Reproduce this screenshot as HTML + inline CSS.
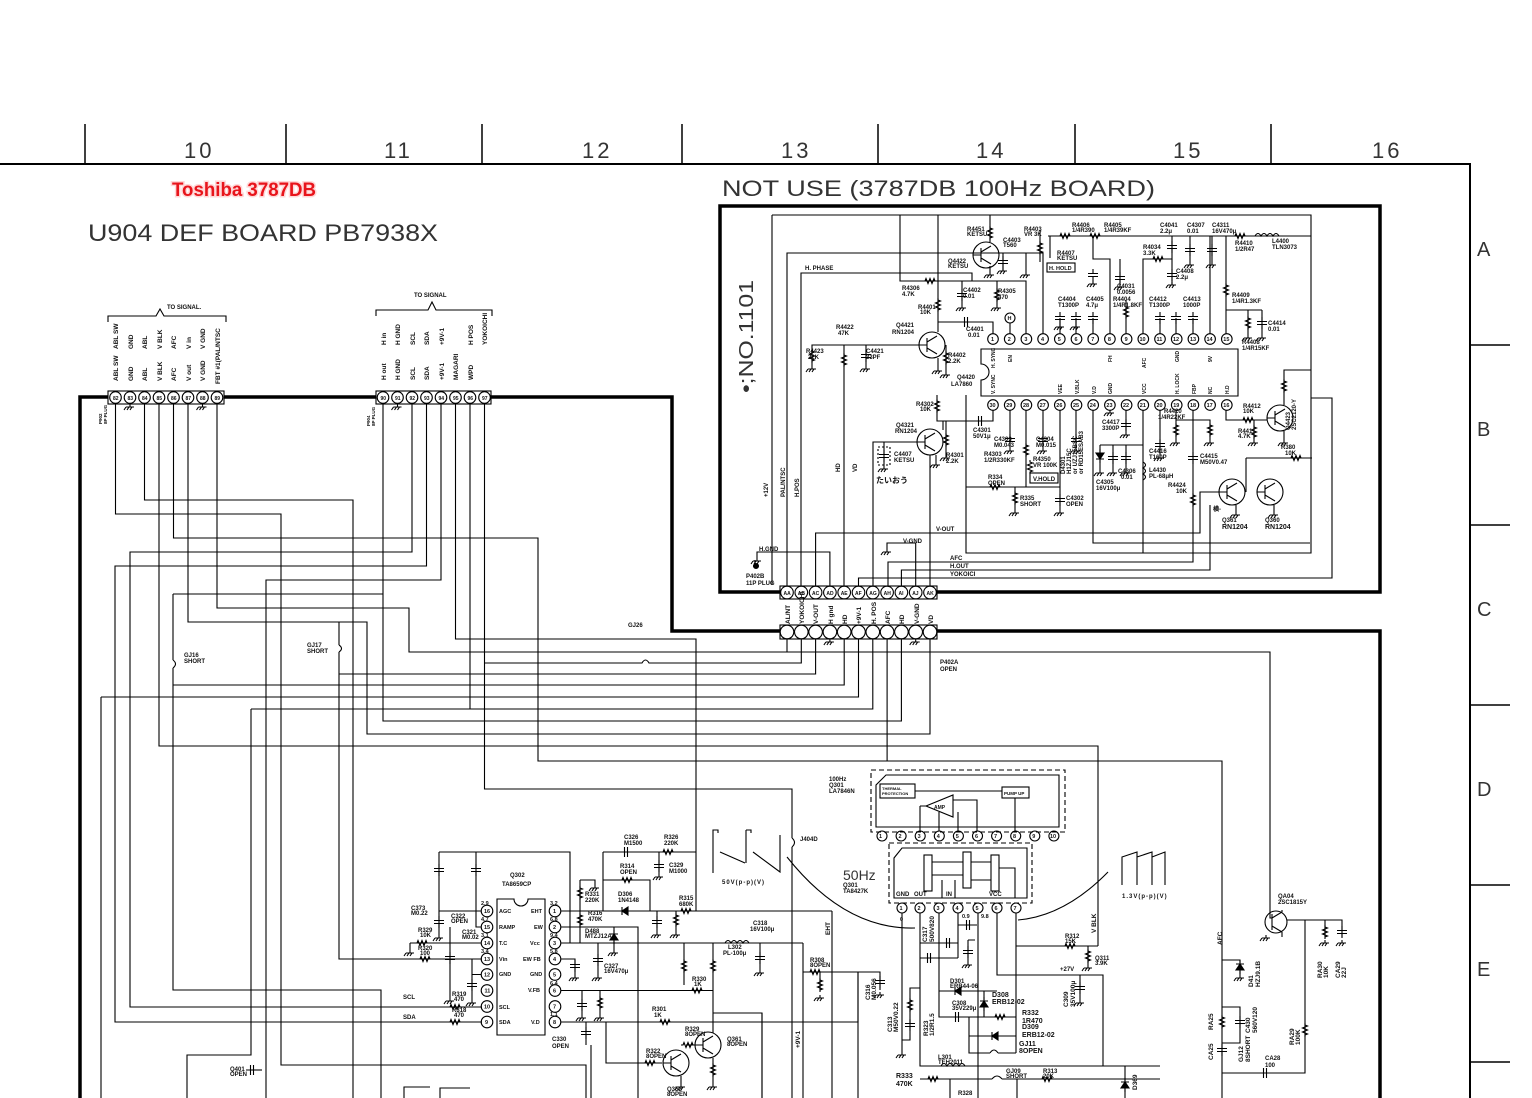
<!DOCTYPE html>
<html><head><meta charset="utf-8"><style>
html,body{margin:0;padding:0;background:#fff}
svg{display:block}
</style></head><body>
<svg width="1532" height="1098" viewBox="0 0 1532 1098" xmlns="http://www.w3.org/2000/svg">
<defs>
<g id="g"><path d="M0 0v3M-4 3h8M-4 3l-2 3M-1 3l-2 3M2 3l-2 3"/></g>
<g id="rv"><path d="M0 -7V-5L2.5 -4L-2.5 -2L2.5 0L-2.5 2L2.5 4L0 5V7"/></g>
<g id="rh"><path d="M-7 0H-5L-4 -2.5L-2 2.5L0 -2.5L2 2.5L4 -2.5L5 0H7"/></g>
<g id="cv"><path d="M0 -6V-1.5M-5 -1.5H5M-5 1.5H5M0 1.5V6"/></g>
<g id="ch"><path d="M-6 0H-1.5M-1.5 -5V5M1.5 -5V5M1.5 0H6"/></g>
<g id="dv"><path d="M0 -7V7M-4 3H4" /><path d="M-4 -3H4L0 3Z" fill="#000"/></g>
<g id="du"><path d="M0 -7V7M-4 -3H4" /><path d="M-4 3H4L0 -3Z" fill="#000"/></g>
<g id="dh"><path d="M-7 0H7M3 -4V4"/><path d="M-3 -4V4L3 0Z" fill="#000"/></g>
<g id="dl"><path d="M-7 0H7M-3 -4V4"/><path d="M3 -4V4L-3 0Z" fill="#000"/></g>
<g id="q"><circle r="13"/><path d="M-5 -7V7M-5 -3L5 -9M-5 3L5 9M-13 0H-5"/></g>
</defs>
<rect width="1532" height="1098" fill="#fff"/>

<g fill="none" stroke="#000" stroke-width="1.1">
<!-- frame -->
<path d="M0 164H1470V1098" stroke-width="2"/>
<path d="M85 124V164M286 124V164M482 124V164M682 124V164M878 124V164M1075 124V164M1271 124V164" stroke-width="1.5"/>
<path d="M1470 345H1510M1470 525H1510M1470 705H1510M1470 885H1510M1470 1062H1510" stroke-width="1.5"/>

<!-- thick board outlines -->
<rect x="720" y="206" width="660" height="386" stroke-width="3.5"/>
<path d="M80 1098V397H672V631H1380V1098" stroke-width="3.5"/>

<!-- braces -->
<path d="M108 322V316H156L160 309L164 316H226V322"/>
<path d="M376 316V310H428L432 302L436 310H492V316"/>

<!-- connectors -->
<rect x="108" y="391" width="116" height="13" fill="#fff"/>
<rect x="376" y="391" width="115" height="13" fill="#fff"/>
<rect x="780" y="586" width="157" height="13" fill="#fff"/>
<rect x="780" y="625" width="157" height="14" fill="#fff"/>
<g>
<circle cx="115.5" cy="397.5" r="5.8"/><circle cx="130" cy="397.5" r="5.8"/><circle cx="144.5" cy="397.5" r="5.8"/><circle cx="159" cy="397.5" r="5.8"/><circle cx="173.5" cy="397.5" r="5.8"/><circle cx="188" cy="397.5" r="5.8"/><circle cx="202.5" cy="397.5" r="5.8"/><circle cx="217" cy="397.5" r="5.8"/>
<circle cx="383" cy="397.5" r="5.8"/><circle cx="397.5" cy="397.5" r="5.8"/><circle cx="412" cy="397.5" r="5.8"/><circle cx="426.5" cy="397.5" r="5.8"/><circle cx="441" cy="397.5" r="5.8"/><circle cx="455.5" cy="397.5" r="5.8"/><circle cx="470" cy="397.5" r="5.8"/><circle cx="484.5" cy="397.5" r="5.8"/>
<circle cx="787" cy="592.5" r="6.3"/><circle cx="801.3" cy="592.5" r="6.3"/><circle cx="815.6" cy="592.5" r="6.3"/><circle cx="829.9" cy="592.5" r="6.3"/><circle cx="844.2" cy="592.5" r="6.3"/><circle cx="858.5" cy="592.5" r="6.3"/><circle cx="872.8" cy="592.5" r="6.3"/><circle cx="887.1" cy="592.5" r="6.3"/><circle cx="901.4" cy="592.5" r="6.3"/><circle cx="915.7" cy="592.5" r="6.3"/><circle cx="930" cy="592.5" r="6.3"/>
<circle cx="787" cy="632" r="6.8"/><circle cx="801.3" cy="632" r="6.8"/><circle cx="815.6" cy="632" r="6.8"/><circle cx="829.9" cy="632" r="6.8"/><circle cx="844.2" cy="632" r="6.8"/><circle cx="858.5" cy="632" r="6.8"/><circle cx="872.8" cy="632" r="6.8"/><circle cx="887.1" cy="632" r="6.8"/><circle cx="901.4" cy="632" r="6.8"/><circle cx="915.7" cy="632" r="6.8"/><circle cx="930" cy="632" r="6.8"/>
</g>
<use href="#g" x="130" y="404"/><use href="#g" x="202.5" y="404"/><use href="#g" x="397.5" y="404"/>
<use href="#g" x="829.9" y="639"/><use href="#g" x="915.7" y="639"/>

<!-- ===== TOP BOX wiring ===== -->
<path d="M772 215H1311V553H966V395"/>
<path d="M772 215V585"/>
<path d="M787 586V253H1043V334"/>
<path d="M801 586V273H972V281"/>
<path d="M900 215V281H1026V334"/>
<path d="M938 215V332M938 322H993V334"/>
<path d="M990 215V242M990 266V272"/><use href="#g" x="990" y="272"/>
<use href="#q" x="986" y="255"/>
<use href="#rv" x="990" y="233"/>
<path d="M1003 253V270M1010 334V323"/><circle cx="1010" cy="318" r="5"/>
<use href="#cv" x="1003" y="262"/><use href="#g" x="1003" y="268"/>
<path d="M1026 253V272M1040 230V262"/><use href="#g" x="1026" y="272"/><use href="#rv" x="1040" y="248"/>
<path d="M1048 236H1311M1050 236V258"/>
<use href="#rh" x="1065" y="236"/><use href="#rh" x="1095" y="236"/><use href="#rh" x="1240" y="236"/>
<path d="M1255 236q3 -5 6 0q3 -5 6 0q3 -5 6 0q3 -5 6 0"/>
<rect x="1047" y="263" width="28" height="9"/>
<path d="M1060 334V318M1076 334V318M1093 334V318"/>
<use href="#cv" x="1060" y="318"/><use href="#cv" x="1076" y="318"/><use href="#cv" x="1093" y="318"/>
<use href="#g" x="1060" y="324"/><use href="#g" x="1076" y="324"/>
<path d="M1110 334V259H1093V236"/><use href="#cv" x="1093" y="275"/><use href="#g" x="1093" y="281"/>
<path d="M1126 334V300"/><use href="#rv" x="1126" y="312"/>
<path d="M1143 334V259H1172V236M1120 259V285"/><use href="#cv" x="1120" y="278"/><use href="#g" x="1120" y="284"/>
<use href="#cv" x="1172" y="247"/><path d="M1172 259V285"/><use href="#cv" x="1172" y="275"/><use href="#g" x="1172" y="282"/>
<path d="M1190 236V262M1212 236V262"/><use href="#cv" x="1190" y="250"/><use href="#cv" x="1212" y="250"/><use href="#g" x="1190" y="262"/><use href="#g" x="1212" y="262"/>
<use href="#rh" x="1158" y="259"/>
<path d="M1160 334V318M1176 334V318M1193 334V318"/>
<use href="#cv" x="1160" y="318"/><use href="#cv" x="1176" y="318"/><use href="#cv" x="1193" y="318"/>
<path d="M1210 334V236M1226 334V236"/>
<use href="#rv" x="1226" y="290"/>
<path d="M1226 310H1262M1248 310V335M1262 310V335"/><use href="#rv" x="1248" y="323"/><use href="#cv" x="1262" y="323"/><use href="#g" x="1248" y="335"/><use href="#g" x="1262" y="335"/>
<use href="#rh" x="930" y="281"/>
<path d="M962 281V305M997 281V305"/><use href="#cv" x="962" y="295"/><use href="#rv" x="997" y="295"/><use href="#g" x="962" y="305"/><use href="#g" x="997" y="305"/>
<use href="#rv" x="938" y="305"/>
<use href="#ch" x="966" y="322"/>
<use href="#q" x="932" y="345"/>
<path d="M919 345H812V366M844 345V586M866 345V366M938 358V368M946 345V372"/>
<use href="#rv" x="812" y="356"/><use href="#rv" x="844" y="360"/><use href="#cv" x="866" y="356"/><use href="#rv" x="946" y="358"/>
<use href="#g" x="812" y="366"/><use href="#g" x="866" y="366"/><use href="#g" x="938" y="368"/><use href="#g" x="946" y="372"/>

<!-- IC Q4420 -->
<path d="M981 349H1238V396H981V380A8 8 0 0 0 981 364Z"/>
<g>
<circle cx="993" cy="339" r="5.3"/><circle cx="1009.7" cy="339" r="5.3"/><circle cx="1026.4" cy="339" r="5.3"/><circle cx="1043.1" cy="339" r="5.3"/><circle cx="1059.8" cy="339" r="5.3"/><circle cx="1076.5" cy="339" r="5.3"/><circle cx="1093.2" cy="339" r="5.3"/><circle cx="1109.9" cy="339" r="5.3"/><circle cx="1126.6" cy="339" r="5.3"/><circle cx="1143.3" cy="339" r="5.3"/><circle cx="1160" cy="339" r="5.3"/><circle cx="1176.7" cy="339" r="5.3"/><circle cx="1193.4" cy="339" r="5.3"/><circle cx="1210.1" cy="339" r="5.3"/><circle cx="1226.8" cy="339" r="5.3"/>
<circle cx="993" cy="405" r="5.3"/><circle cx="1009.7" cy="405" r="5.3"/><circle cx="1026.4" cy="405" r="5.3"/><circle cx="1043.1" cy="405" r="5.3"/><circle cx="1059.8" cy="405" r="5.3"/><circle cx="1076.5" cy="405" r="5.3"/><circle cx="1093.2" cy="405" r="5.3"/><circle cx="1109.9" cy="405" r="5.3"/><circle cx="1126.6" cy="405" r="5.3"/><circle cx="1143.3" cy="405" r="5.3"/><circle cx="1160" cy="405" r="5.3"/><circle cx="1176.7" cy="405" r="5.3"/><circle cx="1193.4" cy="405" r="5.3"/><circle cx="1210.1" cy="405" r="5.3"/><circle cx="1226.8" cy="405" r="5.3"/>
</g>
<path d="M993 410V421H937V395M943 421V430"/><use href="#rv" x="937" y="406"/><use href="#ch" x="980" y="421"/>
<use href="#q" x="930" y="442"/>
<path d="M917 442H873V586M946 421V455M936 455V462"/><use href="#rv" x="946" y="440"/><use href="#g" x="946" y="455"/><use href="#g" x="936" y="462"/>
<path d="M884 442V466"/><rect x="878" y="447" width="12" height="18" stroke-dasharray="2 2"/><use href="#cv" x="884" y="456"/><use href="#g" x="884" y="466"/>
<path d="M1010 410V448M1043 410V448M1076 410V448"/><use href="#cv" x="1010" y="440"/><use href="#cv" x="1043" y="440"/><use href="#cv" x="1076" y="440"/><use href="#g" x="1010" y="448"/><use href="#g" x="1043" y="448"/><use href="#g" x="1076" y="448"/>
<path d="M1026 410V487M1060 410V510"/><use href="#rv" x="1026" y="450"/><use href="#rv" x="1030" y="467"/>
<rect x="1030" y="473" width="28" height="10"/>
<path d="M966 487H1060"/><use href="#rh" x="995" y="487"/>
<path d="M1015 487V510"/><use href="#rv" x="1015" y="498"/><use href="#g" x="1015" y="510"/><use href="#cv" x="1060" y="500"/><use href="#g" x="1060" y="510"/>
<path d="M930 455V586"/>
<path d="M1093 410V543H1310"/>
<use href="#g" x="1110" y="410"/>
<path d="M1126 410V432M1143 410V553"/><use href="#cv" x="1126" y="425"/><use href="#g" x="1126" y="432"/>
<path d="M1100 445H1143M1100 445V470M1113 445V470M1126 445V470"/><use href="#dv" x="1100" y="456"/><use href="#cv" x="1113" y="458"/><use href="#cv" x="1126" y="458"/>
<use href="#g" x="1100" y="470"/><use href="#g" x="1113" y="470"/><use href="#g" x="1126" y="470"/>
<path d="M1143 462q5 3 0 6q5 3 0 6q5 3 0 6"/>
<path d="M1160 410V455"/><use href="#cv" x="1160" y="445"/><use href="#g" x="1160" y="455"/>
<path d="M1176 410V440M1176 420H1210V440"/><use href="#rv" x="1176" y="430"/><use href="#rv" x="1210" y="430"/><use href="#g" x="1176" y="440"/><use href="#g" x="1210" y="440"/>
<path d="M1193 410V562H888V586"/><use href="#cv" x="1193" y="458"/><use href="#rv" x="1193" y="500"/>
<path d="M1226 410V420H1267"/><use href="#rh" x="1248" y="420"/><path d="M1254 420V440"/><use href="#rv" x="1254" y="432"/><use href="#g" x="1254" y="440"/>
<use href="#q" x="1280" y="418"/>
<path d="M1284 405V370H1311M1284 431V440"/><use href="#rv" x="1284" y="386"/><use href="#g" x="1284" y="440"/>
<path d="M1246 458H1312"/><use href="#rh" x="1296" y="458"/><path d="M1246 458V492"/>
<use href="#q" x="1232" y="492"/><use href="#q" x="1270" y="492"/>
<path d="M1236 505V512M1274 505V512"/><use href="#g" x="1236" y="512"/><use href="#g" x="1274" y="512"/>
<path d="M815.6 586V533H1200V492H1219"/>
<path d="M901.4 586V570H1210V505"/>
<path d="M858.5 586V578H1332V398H1311"/>
<path d="M829.9 586V552H757V558"/><use href="#g" x="757" y="558"/>
<path d="M915.7 586V543H887V549"/><use href="#g" x="887" y="549"/>
<path d="M755 560V565" /><circle cx="756" cy="566" r="2.5" fill="#000"/>

<!-- ===== LOWER LEFT wiring ===== -->
<path d="M115.5 404V514H281V1065H586V1098"/>
<path d="M144.5 404V500H353V1098"/>
<path d="M159 404V746H1098V946"/>
<path d="M173.5 404V538H538V761H1222V1098"/>
<path d="M188 404V622H367V734H930V639"/>
<path d="M217 404V608H409V652H1270V910"/>
<path d="M787 639V652"/>
<path d="M383 404V721H901.4V639"/>
<path d="M412 404V552H130V1007H482"/>
<path d="M426.5 404V566H115V1022H482"/>
<path d="M441 404V580H266V1098"/>
<path d="M455.5 404V639H696V911"/>
<path d="M470 404V709H872.8V639M251 709H470M251 709V1055H187V1098"/>
<path d="M484.5 404V789H792V838M792 847V1098"/>
<path d="M792 838q5 4.5 0 9"/>
<path d="M484.5 663H642q3.5 -6 7 0H801.3V639"/>
<path d="M173 594H383M173 594V660M173 668V990H381V1098"/>
<path d="M173 660q5 4 0 8"/>
<path d="M339 622V645M339 652V959H482M339 645q5 3.5 0 7"/>
<path d="M339 674H815.6V639"/>
<path d="M173 685H844.2V639"/>
<path d="M101 697H858.5V639M101 697V1098"/>
<path d="M887.1 639V761"/>

<!-- Q302 -->
<path d="M497 899H514A7 7 0 0 0 528 899H545V1035H497Z"/>
<g>
<circle cx="487" cy="911" r="5.8"/><circle cx="487" cy="927" r="5.8"/><circle cx="487" cy="943" r="5.8"/><circle cx="487" cy="959" r="5.8"/><circle cx="487" cy="974.5" r="5.8"/><circle cx="487" cy="990.5" r="5.8"/><circle cx="487" cy="1006.5" r="5.8"/><circle cx="487" cy="1022" r="5.8"/>
<circle cx="555" cy="911" r="5.8"/><circle cx="555" cy="927" r="5.8"/><circle cx="555" cy="943" r="5.8"/><circle cx="555" cy="959" r="5.8"/><circle cx="555" cy="974.5" r="5.8"/><circle cx="555" cy="990.5" r="5.8"/><circle cx="555" cy="1006.5" r="5.8"/><circle cx="555" cy="1022" r="5.8"/>
</g>
<path d="M439 852H570V943"/>
<path d="M439 852V911H481M439 911V935"/><use href="#cv" x="439" y="870"/><use href="#cv" x="439" y="922"/><use href="#g" x="439" y="935"/>
<path d="M476 852V927H481"/><use href="#cv" x="476" y="870"/>
<path d="M410 943H481M410 943V950"/><use href="#rh" x="422" y="943"/><use href="#g" x="410" y="950"/>
<use href="#rh" x="425" y="959"/>
<path d="M450 927V998M472 959V1000M472 974.5H481"/><use href="#cv" x="450" y="958"/><use href="#cv" x="472" y="985"/><use href="#g" x="450" y="998"/><use href="#g" x="472" y="1000"/>
<use href="#rh" x="455" y="1007"/><use href="#rh" x="455" y="1022"/>
<path d="M561 911H832"/><use href="#rh" x="686" y="911"/><use href="#dl" x="625" y="911"/>
<path d="M603 852V911M603 852H696"/><use href="#ch" x="626" y="852"/><use href="#rh" x="668" y="852"/><path d="M659 852V874"/><use href="#cv" x="659" y="866"/><use href="#g" x="659" y="874"/>
<path d="M603 880H650V911"/><use href="#rh" x="627" y="880"/>
<path d="M580 880V943M580 880H595V885"/><use href="#rv" x="580" y="893"/><use href="#rv" x="580" y="920"/><use href="#g" x="595" y="885"/>
<path d="M657 911V932M676 911V932"/><use href="#cv" x="657" y="922"/><use href="#rv" x="676" y="920"/><use href="#g" x="657" y="932"/><use href="#g" x="676" y="932"/>
<path d="M561 927H638V1098"/><use href="#du" x="614" y="937"/><path d="M614 927V950"/><use href="#g" x="614" y="950"/>
<path d="M561 943H803"/>
<path d="M725 943q3 -5 6 0q3 -5 6 0q3 -5 6 0q3 -5 6 0"/>
<path d="M760 943V970"/><use href="#cv" x="760" y="958"/><use href="#g" x="760" y="970"/>
<path d="M561 959H575V975M598 943V975"/><use href="#cv" x="575" y="966"/><use href="#cv" x="598" y="960"/><use href="#g" x="575" y="975"/><use href="#g" x="598" y="975"/>
<path d="M561 990.5H713"/>
<path d="M582 990.5V1015M600 990.5V1015"/><use href="#cv" x="582" y="1005"/><use href="#rv" x="600" y="1003"/><use href="#g" x="582" y="1015"/><use href="#g" x="600" y="1015"/>
<path d="M713 943V1033M713 1013H762V1098M684 943V985"/><use href="#rv" x="684" y="966"/><use href="#rv" x="713" y="966"/><use href="#rh" x="697" y="990.5"/>
<path d="M561 1022H858V972M803 972H880V990"/><use href="#rh" x="665" y="1022"/>
<path d="M586 1022V1045"/><use href="#cv" x="586" y="1033"/>
<path d="M606 1022V1063H662"/><use href="#rh" x="650" y="1063"/>
<use href="#q" x="676" y="1063"/><use href="#q" x="708" y="1045"/>
<path d="M681 1076V1084M695 1045H686M713 1058V1084"/><use href="#rh" x="688" y="1045"/><use href="#rv" x="713" y="1070"/><use href="#g" x="681" y="1084"/><use href="#g" x="713" y="1084"/>
<path d="M803 943V1098M832 911V1098"/>
<path d="M820 972V990"/><use href="#rh" x="815" y="972"/><use href="#rv" x="820" y="985"/><use href="#g" x="820" y="995"/>
<use href="#cv" x="880" y="982"/><use href="#g" x="880" y="992"/>
<path d="M858 972V1098"/>
<path d="M762 1013V1098M591 1045V1098"/>
<path d="M404 1098V1087H430M440 1098V1088H470"/>
<path d="M187 1055H251"/><path d="M251 1070H262"/><use href="#ch" x="252" y="1070"/>

<!-- waveforms & callouts -->
<path d="M713 873V830h5v3M720 852L745 863M746 830V863M746 830h5v3M753 852L780 872V835"/>
<path d="M1122 885V857L1137 852V885M1137 857L1152 852V885M1152 857L1165 852V885"/>
<path d="M787 857Q845 930 915 928"/>
<path d="M1108 872Q1065 916 1018 920"/>

<!-- 100Hz Q301 LA7846N -->
<rect x="871" y="770" width="194" height="62" stroke-dasharray="5 3"/>
<path d="M886 775H1059V827H876V785Z"/>
<rect x="880" y="784" width="35" height="14"/>
<path d="M926 806L953 795V817Z"/>
<rect x="1002" y="787" width="27" height="11"/>
<path d="M915 791H1002M920 806V831M939 812V831M958 812V831M953 800H977V831M1015 798V831M920 806H926"/>
<g>
<circle cx="882" cy="836" r="5"/><circle cx="901.1" cy="836" r="5"/><circle cx="920.2" cy="836" r="5"/><circle cx="939.3" cy="836" r="5"/><circle cx="958.4" cy="836" r="5"/><circle cx="977.5" cy="836" r="5"/><circle cx="996.6" cy="836" r="5"/><circle cx="1015.7" cy="836" r="5"/><circle cx="1034.8" cy="836" r="5"/><circle cx="1053.9" cy="836" r="5"/>
</g>
<!-- 50Hz TA8427K -->
<rect x="889" y="843" width="143" height="60" stroke-dasharray="5 3"/>
<path d="M902 848H1027V898H894V858Z"/>
<rect x="924" y="855" width="8" height="36"/><rect x="963" y="852" width="8" height="36"/><rect x="991" y="855" width="8" height="36"/>
<path d="M932 862H963M971 862H991M932 875H963M971 880H991M999 868H1015V898M942 880V898M955 880V898"/>
<g>
<circle cx="902" cy="908" r="5"/><circle cx="920" cy="908" r="5"/><circle cx="939" cy="908" r="5"/><circle cx="958" cy="908" r="5"/><circle cx="978" cy="908" r="5"/><circle cx="997" cy="908" r="5"/><circle cx="1016" cy="908" r="5"/>
</g>
<!-- TA8427K pin wiring -->
<path d="M902 913V1052"/><use href="#g" x="902" y="1052"/>
<path d="M920 988H910V1040H902"/><use href="#rv" x="910" y="1005"/><use href="#cv" x="910" y="1025"/>
<path d="M920 913V1066H1160"/>
<path d="M941 1066q3 -5 6 0q3 -5 6 0q3 -5 6 0q3 -5 6 0"/>
<path d="M939 913V1017H1016"/>
<path d="M939 991H997"/><use href="#dl" x="958" y="991"/>
<path d="M984 991V1017"/><use href="#du" x="984" y="1004"/>
<use href="#ch" x="957" y="1017"/><use href="#rh" x="1000" y="1017"/>
<path d="M920 943H958M920 958H958M958 913V958M958 925H977"/>
<use href="#ch" x="948" y="943"/><use href="#ch" x="929" y="958"/><use href="#ch" x="968" y="925"/>
<path d="M968 940V962M968 940H975"/><use href="#cv" x="968" y="952"/><use href="#g" x="968" y="962"/>
<path d="M978 913V1098"/>
<path d="M997 913V975H1103V1066"/>
<path d="M1016 913V1053M1016 946H1098"/>
<path d="M969 1017V1053H990M998 1053H1016M969 1036H1016"/>
<path d="M990 1053q4 -6 8 0"/>
<use href="#dl" x="995" y="1036"/>
<path d="M920 1079H992M1002 1079H1160"/><path d="M992 1079q5 -6 10 0"/>
<use href="#rh" x="933" y="1079"/><use href="#rh" x="1047" y="1079"/>
<path d="M950 1079V1098M1017 1079V1098"/>
<path d="M1080 975V1000"/><use href="#cv" x="1080" y="988"/><use href="#g" x="1080" y="1000"/>
<use href="#rh" x="1070" y="946"/>
<path d="M1088 946V965"/><use href="#rv" x="1088" y="956"/><use href="#g" x="1088" y="965"/>
<path d="M1125 1066V1098"/><use href="#du" x="1125" y="1085"/>

<!-- right: AFC and QA04 -->
<path d="M1222 960H1240V975M1222 1007H1240V1043H1222M1222 1073H1305V920"/>
<use href="#du" x="1240" y="967"/><use href="#g" x="1240" y="975"/>
<use href="#cv" x="1240" y="1022"/><use href="#rv" x="1222" y="1022"/><use href="#cv" x="1222" y="1050"/>
<use href="#ch" x="1265" y="1073"/><use href="#rv" x="1305" y="1030"/>
<circle cx="1276" cy="922" r="11"/>
<path d="M1272 914V930M1272 918L1282 912M1272 926L1282 932M1270 910V918H1272M1282 912V910M1282 932V937"/>
<use href="#g" x="1266" y="935"/>
<path d="M1287 920H1342V937M1325 920V937"/><use href="#rv" x="1325" y="932"/><use href="#cv" x="1342" y="932"/><use href="#g" x="1325" y="940"/><use href="#g" x="1342" y="940"/>
</g>

<!-- ===== TEXT ===== -->
<g font-family="Liberation Sans, sans-serif" fill="#111">
<g font-size="22" letter-spacing="3" fill="#333">
<text x="184" y="158">10</text><text x="384" y="158">11</text><text x="582" y="158">12</text><text x="781" y="158">13</text><text x="976" y="158">14</text><text x="1173" y="158">15</text><text x="1372" y="158">16</text>
</g>
<g font-size="20" fill="#333">
<text x="1477" y="256">A</text><text x="1477" y="436">B</text><text x="1477" y="616">C</text><text x="1477" y="796">D</text><text x="1477" y="976">E</text>
</g>
<text x="172" y="196" font-size="19" font-weight="bold" fill="#e8141b" stroke="#ffd8d8" stroke-width="3" paint-order="stroke" textLength="144" lengthAdjust="spacingAndGlyphs">Toshiba 3787DB</text>
<text x="88" y="241" font-size="24" fill="#333" textLength="350" lengthAdjust="spacingAndGlyphs">U904  DEF  BOARD  PB7938X</text>
<text x="722" y="196" font-size="22" fill="#333" textLength="433" lengthAdjust="spacingAndGlyphs">NOT  USE  (3787DB  100Hz  BOARD)</text>
<text x="753" y="393" font-size="20" fill="#333" transform="rotate(-90 753 393)" textLength="113" lengthAdjust="spacingAndGlyphs">•;NO.1101</text>
<text x="843" y="880" font-size="14" fill="#333">50Hz</text>

<g font-size="6" font-weight="bold">
<text x="167" y="309">TO SIGNAL.</text>
<text x="414" y="297">TO SIGNAL</text>
<g font-size="5">
<text x="113" y="400">82</text><text x="127.5" y="400">83</text><text x="142" y="400">84</text><text x="156.5" y="400">85</text><text x="171" y="400">86</text><text x="185.5" y="400">87</text><text x="200" y="400">88</text><text x="214.5" y="400">89</text>
<text x="380.5" y="400">90</text><text x="395" y="400">91</text><text x="409.5" y="400">92</text><text x="424" y="400">93</text><text x="438.5" y="400">94</text><text x="453" y="400">95</text><text x="467.5" y="400">96</text><text x="482" y="400">97</text>
<text x="783.5" y="595">AA</text><text x="797.8" y="595">AB</text><text x="812" y="595">AC</text><text x="826.4" y="595">AD</text><text x="840.7" y="595">AE</text><text x="855" y="595">AF</text><text x="869.3" y="595">AG</text><text x="883.6" y="595">AH</text><text x="898.5" y="595">AI</text><text x="912.2" y="595">AJ</text><text x="926.5" y="595">AK</text>
</g>
<g font-size="6.5">
<text transform="rotate(-90 118 349)" x="118" y="349">ABL SW</text>
<text transform="rotate(-90 133 349)" x="133" y="349">GND</text>
<text transform="rotate(-90 147 349)" x="147" y="349">ABL</text>
<text transform="rotate(-90 162 349)" x="162" y="349">V BLK</text>
<text transform="rotate(-90 176 349)" x="176" y="349">AFC</text>
<text transform="rotate(-90 191 349)" x="191" y="349">V in</text>
<text transform="rotate(-90 205 349)" x="205" y="349">V GND</text>
<text transform="rotate(-90 118 381)" x="118" y="381">ABL SW</text>
<text transform="rotate(-90 133 381)" x="133" y="381">GND</text>
<text transform="rotate(-90 147 381)" x="147" y="381">ABL</text>
<text transform="rotate(-90 162 381)" x="162" y="381">V BLK</text>
<text transform="rotate(-90 176 381)" x="176" y="381">AFC</text>
<text transform="rotate(-90 191 381)" x="191" y="381">V out</text>
<text transform="rotate(-90 205 381)" x="205" y="381">V GND</text>
<text transform="rotate(-90 220 384)" x="220" y="384">FBT #1(PAL/NTSC</text>
<text transform="rotate(-90 386 345)" x="386" y="345">H in</text>
<text transform="rotate(-90 400 345)" x="400" y="345">H GND</text>
<text transform="rotate(-90 415 345)" x="415" y="345">SCL</text>
<text transform="rotate(-90 429 345)" x="429" y="345">SDA</text>
<text transform="rotate(-90 444 345)" x="444" y="345">+9V-1</text>
<text transform="rotate(-90 473 345)" x="473" y="345">H POS</text>
<text transform="rotate(-90 487 345)" x="487" y="345">YOKOICHI</text>
<text transform="rotate(-90 386 380)" x="386" y="380">H out</text>
<text transform="rotate(-90 400 380)" x="400" y="380">H GND</text>
<text transform="rotate(-90 415 380)" x="415" y="380">SCL</text>
<text transform="rotate(-90 429 380)" x="429" y="380">SDA</text>
<text transform="rotate(-90 444 380)" x="444" y="380">+9V-1</text>
<text transform="rotate(-90 458 380)" x="458" y="380">MAGARI</text>
<text transform="rotate(-90 473 380)" x="473" y="380">WPD</text>
<text transform="rotate(-90 790 624)" x="790" y="624">AL/NT</text>
<text transform="rotate(-90 804 624)" x="804" y="624">YOKOICHI</text>
<text transform="rotate(-90 818 624)" x="818" y="624">V-OUT</text>
<text transform="rotate(-90 833 624)" x="833" y="624">H gnd</text>
<text transform="rotate(-90 847 624)" x="847" y="624">HD</text>
<text transform="rotate(-90 861 624)" x="861" y="624">+9V-1</text>
<text transform="rotate(-90 876 624)" x="876" y="624">H. POS</text>
<text transform="rotate(-90 890 624)" x="890" y="624">AFC</text>
<text transform="rotate(-90 904 624)" x="904" y="624">HD</text>
<text transform="rotate(-90 919 624)" x="919" y="624">V-GND</text>
<text transform="rotate(-90 933 624)" x="933" y="624">VD</text>
</g>
<g font-size="4.5">
<text transform="rotate(-90 102 424)" x="102" y="424">P902</text>
<text transform="rotate(-90 107 424)" x="107" y="424">8P PLUG</text>
<text transform="rotate(-90 370 426)" x="370" y="426">P904</text>
<text transform="rotate(-90 375 426)" x="375" y="426">8P PLUG</text>
</g>

<!-- top box labels -->
<text x="967" y="231">R4451</text><text x="967" y="236">KETSU</text>
<text x="1003" y="242">C4403</text><text x="1003" y="247">T560</text>
<text x="1024" y="231">R4403</text><text x="1024" y="236">VR 3K</text>
<text x="1072" y="227">R4406</text><text x="1072" y="232">1/4R390</text>
<text x="1104" y="227">R4405</text><text x="1104" y="232">1/4R39KF</text>
<text x="1160" y="227">C4041</text><text x="1160" y="233">2.2μ</text>
<text x="1187" y="227">C4307</text><text x="1187" y="233">0.01</text>
<text x="1212" y="227">C4311</text><text x="1212" y="233">16V470μ</text>
<text x="1235" y="245">R4410</text><text x="1235" y="251">1/2R47</text>
<text x="1272" y="243">L4400</text><text x="1272" y="249">TLN3073</text>
<text x="948" y="263">Q4422</text><text x="948" y="268">KETSU</text>
<text x="1057" y="255">R4407</text><text x="1057" y="260">KETSU</text>
<text x="1049" y="270" font-size="5.5">H. HOLD</text>
<text x="1143" y="249">R4034</text><text x="1143" y="255">3.3K</text>
<text x="1176" y="273">C4408</text><text x="1176" y="279">2.2μ</text>
<text x="1117" y="288">C4031</text><text x="1117" y="294">0.0056</text>
<text x="805" y="270">H. PHASE</text>
<text x="902" y="290">R4306</text><text x="902" y="296">4.7K</text>
<text x="963" y="292">C4402</text><text x="963" y="298">0.01</text>
<text x="998" y="293">R4305</text><text x="998" y="299">470</text>
<text x="918" y="309">R4401</text><text x="920" y="314">10K</text>
<text x="1058" y="301">C4404</text><text x="1058" y="307">T1300P</text>
<text x="1086" y="301">C4405</text><text x="1086" y="307">4.7μ</text>
<text x="1113" y="301">R4404</text><text x="1113" y="307">1/4R1.8KF</text>
<text x="1149" y="301">C4412</text><text x="1149" y="307">T1300P</text>
<text x="1183" y="301">C4413</text><text x="1183" y="307">1000P</text>
<text x="1232" y="297">R4409</text><text x="1232" y="303">1/4R1.3KF</text>
<text x="1268" y="325">C4414</text><text x="1268" y="331">0.01</text>
<text x="1242" y="344">R4408</text><text x="1242" y="350">1/4R15KF</text>
<text x="836" y="329">R4422</text><text x="838" y="335">47K</text>
<text x="896" y="327">Q4421</text><text x="892" y="334">RN1204</text>
<text x="966" y="331">C4401</text><text x="968" y="337">0.01</text>
<text x="806" y="353">R4423</text><text x="808" y="359">22K</text>
<text x="866" y="353">C4421</text><text x="866" y="359">33PF</text>
<text x="948" y="357">R4402</text><text x="948" y="363">2.2K</text>
<text x="957" y="379">Q4420</text><text x="951" y="386">LA7860</text>
<text x="916" y="406">R4302</text><text x="920" y="411">10K</text>
<text x="896" y="427">Q4321</text><text x="895" y="433">RN1204</text>
<text x="973" y="432">C4301</text><text x="973" y="438">50V1μ</text>
<text x="994" y="441">C4303</text><text x="994" y="447">M0.043</text>
<text x="1036" y="441">C4304</text><text x="1036" y="447">M0.015</text>
<text x="984" y="456">R4303</text><text x="984" y="462">1/2R330KF</text>
<text x="1033" y="461">R4350</text><text x="1033" y="467">VR 100K</text>
<text x="1033" y="481">V.HOLD</text>
<text x="988" y="479">R334</text><text x="988" y="485">OPEN</text>
<text x="1020" y="500">R335</text><text x="1020" y="506">SHORT</text>
<text x="1066" y="500">C4302</text><text x="1066" y="506">OPEN</text>
<text x="894" y="456">C4407</text><text x="894" y="462">KETSU</text>
<text x="946" y="457">R4301</text><text x="946" y="463">2.2K</text>
<text x="1102" y="424">C4417</text><text x="1102" y="430">3300P</text>
<text x="1164" y="413">R4420</text><text x="1158" y="419">1/4R22KF</text>
<text x="1149" y="453">C4416</text><text x="1149" y="459">T160P</text>
<text x="1149" y="472">L4430</text><text x="1149" y="478">PL-68μH</text>
<text x="1118" y="473">C4306</text><text x="1121" y="479">0.01</text>
<text x="1096" y="484">C4305</text><text x="1096" y="490">16V100μ</text>
<text x="1168" y="487">R4424</text><text x="1176" y="493">10K</text>
<text x="1200" y="458">C4415</text><text x="1200" y="464">M50V0.47</text>
<text x="1243" y="408">R4412</text><text x="1243" y="413">10K</text>
<text x="1238" y="433">R4411</text><text x="1238" y="438">4.7K</text>
<text x="1281" y="449">R380</text><text x="1285" y="455">10K</text>
<text x="1222" y="522">Q361</text><text x="1222" y="529" font-size="7">RN1204</text>
<text x="1265" y="522">Q360</text><text x="1265" y="529" font-size="7">RN1204</text>
<text x="1213" y="511">横-</text>
<text x="936" y="531">V-OUT</text>
<text x="903" y="543">V-GND</text>
<text x="759" y="551">H.GND</text>
<text x="950" y="560">AFC</text><text x="950" y="568">H.OUT</text><text x="950" y="576">YOKOICI</text>
<text x="746" y="578">P402B</text><text x="746" y="585">11P PLUG</text>
<text x="876" y="483" font-size="8" font-family="Liberation Sans, Noto Sans CJK JP, sans-serif">たいおう</text>
<text transform="rotate(-90 768 497)" x="768" y="497">+12V</text>
<text transform="rotate(-90 785 497)" x="785" y="497">PAL/NTSC</text>
<text transform="rotate(-90 799 497)" x="799" y="497">H.POS</text>
<text transform="rotate(-90 840 472)" x="840" y="472">HD</text>
<text transform="rotate(-90 857 472)" x="857" y="472">VD</text>
<text transform="rotate(-90 1065 474)" x="1065" y="474">D4301</text>
<text transform="rotate(-90 1071 474)" x="1071" y="474">H1ZJ15C</text>
<text transform="rotate(-90 1077 474)" x="1077" y="474">or UZJ15BSC</text>
<text transform="rotate(-90 1083 474)" x="1083" y="474">or RD15ESAB3</text>
<text transform="rotate(-90 1290 430)" x="1290" y="430">Q4423</text>
<text transform="rotate(-90 1296 430)" x="1296" y="430">2SC2120-Y</text>
<g font-size="5">
<text transform="rotate(-90 995 368)" x="995" y="368">H. SYNC</text>
<text transform="rotate(-90 1012 362)" x="1012" y="362">EN</text>
<text transform="rotate(-90 1112 362)" x="1112" y="362">FH</text>
<text transform="rotate(-90 1146 368)" x="1146" y="368">AFC</text>
<text transform="rotate(-90 1179 362)" x="1179" y="362">GND</text>
<text transform="rotate(-90 1212 362)" x="1212" y="362">9V</text>
<text transform="rotate(-90 995 394)" x="995" y="394">V. SYNC</text>
<text transform="rotate(-90 1062 394)" x="1062" y="394">VEE</text>
<text transform="rotate(-90 1079 394)" x="1079" y="394">V.BLK</text>
<text transform="rotate(-90 1096 394)" x="1096" y="394">V.D</text>
<text transform="rotate(-90 1112 394)" x="1112" y="394">GND</text>
<text transform="rotate(-90 1146 394)" x="1146" y="394">VCC</text>
<text transform="rotate(-90 1179 394)" x="1179" y="394">H. LOCK</text>
<text transform="rotate(-90 1196 394)" x="1196" y="394">FBP</text>
<text transform="rotate(-90 1212 394)" x="1212" y="394">NC</text>
<text transform="rotate(-90 1229 394)" x="1229" y="394">H.D</text>
</g>
<g font-size="5.5">
<text x="991" y="341">1</text><text x="1007.7" y="341">2</text><text x="1024.4" y="341">3</text><text x="1041" y="341">4</text><text x="1057.8" y="341">5</text><text x="1074.5" y="341">6</text><text x="1091.2" y="341">7</text><text x="1107.9" y="341">8</text><text x="1124.6" y="341">9</text><text x="1139.5" y="341">10</text><text x="1156.5" y="341">11</text><text x="1173" y="341">12</text><text x="1190" y="341">13</text><text x="1206.5" y="341">14</text><text x="1223.3" y="341">15</text>
<text x="989.5" y="407">30</text><text x="1006.2" y="407">29</text><text x="1023" y="407">28</text><text x="1039.6" y="407">27</text><text x="1056.3" y="407">26</text><text x="1073" y="407">25</text><text x="1089.7" y="407">24</text><text x="1106.4" y="407">23</text><text x="1123" y="407">22</text><text x="1139.8" y="407">21</text><text x="1156.5" y="407">20</text><text x="1173.2" y="407">19</text><text x="1190" y="407">18</text><text x="1206.6" y="407">17</text><text x="1223.3" y="407">16</text>
<text x="1007.5" y="320">H</text>
</g>

<!-- lower labels -->
<text x="184" y="657">GJ16</text><text x="184" y="663">SHORT</text>
<text x="307" y="647">GJ17</text><text x="307" y="653">SHORT</text>
<text x="628" y="627">GJ26</text>
<text x="940" y="664">P402A</text><text x="940" y="671">OPEN</text>
<text x="829" y="781">100Hz</text><text x="829" y="787">Q301</text><text x="829" y="793">LA7846N</text>
<text x="882" y="790" font-size="4">THERMAL</text><text x="882" y="795" font-size="4">PROTECTION</text>
<text x="934" y="809" font-size="5">AMP</text>
<text x="1004" y="795" font-size="4.5">PUMP UP</text>
<text x="843" y="887">Q301</text><text x="843" y="893">TA8427K</text>
<text x="896" y="896">GND</text><text x="914" y="896">OUT</text><text x="946" y="896">IN</text><text x="989" y="896">VCC</text>
<text x="722" y="884" letter-spacing="1">50V(p-p)(V)</text>
<text x="1122" y="898" letter-spacing="1">1.3V(p-p)(V)</text>
<text x="800" y="841">J404D</text>
<g font-size="5.5">
<text x="879" y="838">1</text><text x="898.5" y="838">2</text><text x="917.6" y="838">3</text><text x="936.7" y="838">4</text><text x="955.8" y="838">5</text><text x="975" y="838">6</text><text x="994" y="838">7</text><text x="1013" y="838">8</text><text x="1032.2" y="838">9</text><text x="1050" y="838">10</text>
<text x="899.5" y="910">1</text><text x="917.5" y="910">2</text><text x="936.5" y="910">3</text><text x="955.5" y="910">4</text><text x="975.5" y="910">5</text><text x="994.5" y="910">6</text><text x="1013.5" y="910">7</text>
<text x="900" y="921">0</text><text x="962" y="918">0.9</text><text x="981" y="918">9.8</text>
<text x="484" y="913">16</text><text x="484" y="929">15</text><text x="484" y="945">14</text><text x="484" y="961">13</text><text x="484" y="976.5">12</text><text x="484.5" y="992.5">11</text><text x="484" y="1008.5">10</text><text x="485" y="1024">9</text>
<text x="553" y="913">1</text><text x="553" y="929">2</text><text x="553" y="945">3</text><text x="553" y="961">4</text><text x="553" y="976.5">5</text><text x="553" y="992.5">6</text><text x="553" y="1008.5">7</text><text x="553" y="1024">8</text>
</g>
<text x="510" y="877">Q302</text><text x="502" y="886">TA8659CP</text>
<g font-size="5.5">
<text x="499" y="913">AGC</text><text x="499" y="929">RAMP</text><text x="499" y="945">T.C</text><text x="499" y="961">Vin</text><text x="499" y="976">GND</text><text x="499" y="1009">SCL</text><text x="499" y="1024">SDA</text>
<text x="531" y="913">EHT</text><text x="534" y="929">EW</text><text x="530" y="945">Vcc</text><text x="523" y="961">EW FB</text><text x="530" y="976">GND</text><text x="528" y="992">V.FB</text><text x="531" y="1024">V.D</text>
<text x="481" y="905">2.9</text><text x="481" y="921">4.7</text><text x="481" y="937">3.1</text><text x="481" y="953">3.4</text>
<text x="550" y="905">3.2</text><text x="550" y="921">6.8</text><text x="550" y="937">9.4</text><text x="550" y="953">5.8</text><text x="550" y="985">6.4</text><text x="550" y="1016">1.1</text>
</g>
<text x="624" y="839">C326</text><text x="624" y="845">M1500</text>
<text x="664" y="839">R326</text><text x="664" y="845">220K</text>
<text x="620" y="868">R314</text><text x="620" y="874">OPEN</text>
<text x="669" y="867">C329</text><text x="669" y="873">M1000</text>
<text x="585" y="896">R331</text><text x="585" y="902">220K</text>
<text x="618" y="896">D306</text><text x="618" y="902">1N4148</text>
<text x="679" y="900">R315</text><text x="679" y="906">680K</text>
<text x="588" y="915">R316</text><text x="588" y="921">470K</text>
<text x="585" y="933">D488</text><text x="585" y="938">MTZJ12A</text>
<text x="753" y="925">C318</text><text x="750" y="931">16V100μ</text>
<text x="728" y="949">L302</text><text x="723" y="955">PL-100μ</text>
<text x="604" y="968">C327</text><text x="604" y="973">16V470μ</text>
<text x="692" y="981">R330</text><text x="694" y="986">1K</text>
<text x="652" y="1011">R301</text><text x="654" y="1017">1K</text>
<text x="810" y="962">R308</text><text x="810" y="967">8OPEN</text>
<text x="685" y="1031">R329</text><text x="685" y="1036">8OPEN</text>
<text x="727" y="1041">Q361</text><text x="727" y="1046">8OPEN</text>
<text x="646" y="1053">R322</text><text x="646" y="1058">8OPEN</text>
<text x="667" y="1091">Q352</text><text x="667" y="1096">8OPEN</text>
<text x="552" y="1041">C330</text><text x="552" y="1048">OPEN</text>
<text x="411" y="910">C373</text><text x="411" y="915">M0.22</text>
<text x="451" y="918">C322</text><text x="451" y="923">OPEN</text>
<text x="418" y="932">R329</text><text x="420" y="937">10K</text>
<text x="418" y="950">R320</text><text x="420" y="955">100</text>
<text x="462" y="934">C321</text><text x="462" y="939">M0.02</text>
<text x="403" y="999">SCL</text><text x="403" y="1019">SDA</text>
<text x="452" y="996">R319</text><text x="454" y="1001">470</text>
<text x="452" y="1012">R318</text><text x="454" y="1017">470</text>
<text x="230" y="1071">Q401</text><text x="230" y="1076">OPEN</text>
<text x="1065" y="938">R312</text><text x="1065" y="943">15K</text>
<text x="1095" y="960">Q311</text><text x="1095" y="965">3.9K</text>
<text x="1060" y="971">+27V</text>
<text x="1022" y="1015" font-size="7">R332</text><text x="1022" y="1023" font-size="7">1R470</text>
<text x="992" y="997" font-size="7">D308</text><text x="992" y="1004" font-size="7">ERB12-02</text>
<text x="1022" y="1029" font-size="7">D309</text><text x="1022" y="1037" font-size="7">ERB12-02</text>
<text x="1019" y="1046" font-size="7">GJ11</text><text x="1019" y="1053" font-size="7">8OPEN</text>
<text x="938" y="1059">L301</text><text x="938" y="1064">TEH2011</text>
<text x="896" y="1078" font-size="7">R333</text><text x="896" y="1086" font-size="7">470K</text>
<text x="1006" y="1073">GJ09</text><text x="1006" y="1078">SHORT</text>
<text x="1043" y="1073">R313</text><text x="1043" y="1078">20K</text>
<text x="950" y="983">D301</text><text x="950" y="988">ERB44-06</text>
<text x="952" y="1005">C308</text><text x="952" y="1010">35V229μ</text>
<text x="1278" y="898">QA04</text><text x="1278" y="904">2SC1815Y</text>
<text x="1265" y="1060">CA28</text><text x="1265" y="1067">100</text>
<text x="958" y="1095">R328</text>
<g font-size="6.5">
<text transform="rotate(-90 1096 933)" x="1096" y="933">V BLK</text>
<text transform="rotate(-90 830 935)" x="830" y="935">EHT</text>
<text transform="rotate(-90 800 1048)" x="800" y="1048">+9V-1</text>
<text transform="rotate(-90 1222 945)" x="1222" y="945">AFC</text>
<text transform="rotate(-90 1253 987)" x="1253" y="987">D41</text>
<text transform="rotate(-90 1260 987)" x="1260" y="987">HZJ9.1B</text>
<text transform="rotate(-90 1250 1033)" x="1250" y="1033">C430</text>
<text transform="rotate(-90 1257 1033)" x="1257" y="1033">560V120</text>
<text transform="rotate(-90 1243 1062)" x="1243" y="1062">GJ12</text>
<text transform="rotate(-90 1250 1062)" x="1250" y="1062">8SHORT</text>
<text transform="rotate(-90 1294 1045)" x="1294" y="1045">RA29</text>
<text transform="rotate(-90 1300 1045)" x="1300" y="1045">100K</text>
<text transform="rotate(-90 1322 978)" x="1322" y="978">RA30</text>
<text transform="rotate(-90 1328 978)" x="1328" y="978">10K</text>
<text transform="rotate(-90 1340 978)" x="1340" y="978">CA29</text>
<text transform="rotate(-90 1346 978)" x="1346" y="978">22J</text>
<text transform="rotate(-90 927 942)" x="927" y="942">C317</text>
<text transform="rotate(-90 934 942)" x="934" y="942">500V820</text>
<text transform="rotate(-90 1068 1007)" x="1068" y="1007">C309</text>
<text transform="rotate(-90 1075 1007)" x="1075" y="1007">35V100μ</text>
<text transform="rotate(-90 870 1000)" x="870" y="1000">C316</text>
<text transform="rotate(-90 876 1000)" x="876" y="1000">M0.056</text>
<text transform="rotate(-90 892 1032)" x="892" y="1032">C313</text>
<text transform="rotate(-90 898 1032)" x="898" y="1032">M50V0.22</text>
<text transform="rotate(-90 928 1036)" x="928" y="1036">R323</text>
<text transform="rotate(-90 934 1036)" x="934" y="1036">1/2R1.5</text>
<text transform="rotate(-90 1213 1030)" x="1213" y="1030">RA25</text>
<text transform="rotate(-90 1213 1060)" x="1213" y="1060">CA25</text>
<text transform="rotate(-90 1137 1090)" x="1137" y="1090">D369</text>
</g>
</g>
</g>
</svg>
</body></html>
